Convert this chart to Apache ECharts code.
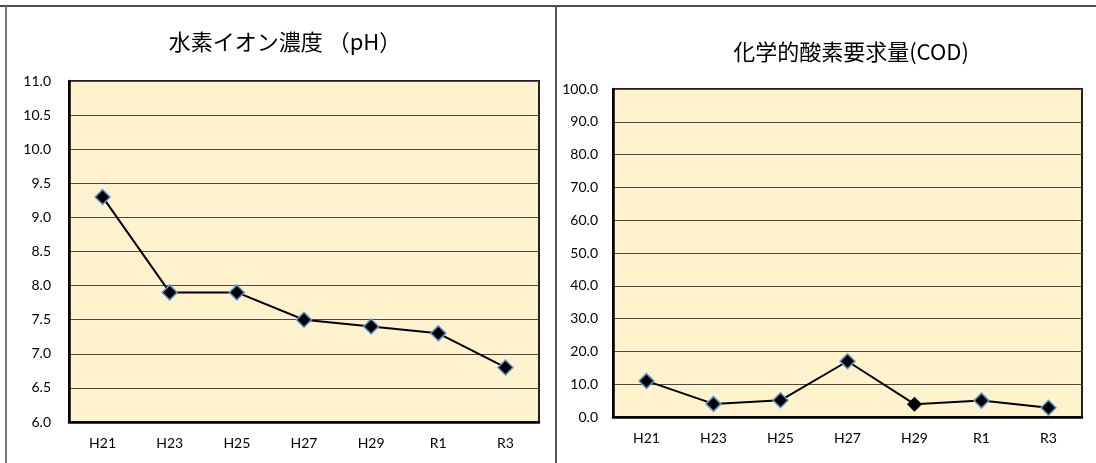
<!DOCTYPE html>
<html>
<head>
<meta charset="utf-8">
<script src="https://cdn.jsdelivr.net/npm/echarts@6/dist/echarts.min.js"></script>
<style>
	html, body { margin: 0; padding: 0; background: #fff; }
	#main { width: 1096px; height: 463px; }
</style>
</head>
<body>
<div id="main"></div>
<script>
// 年度
var years = ['H21', 'H23', 'H25', 'H27', 'H29', 'R1', 'R3'];
// 水素イオン濃度 (pH)
var phValues = [9.3, 7.9, 7.9, 7.5, 7.4, 7.3, 6.8];
// 化学的酸素要求量 (COD)
var codValues = [11.0, 4.0, 5.1, 17.0, 3.9, 5.0, 2.8];

var titleLeft = '水素イオン濃度 （pH）';
var titleRight = '化学的酸素要求量(COD)';

var labelFont = 'Lato, "Noto Sans CJK JP", sans-serif';
var plotBg = '#fff2cc';

function markerData(values, plainIndex) {
	// 菱形マーカー（一部は青い縁なし）
	return values.map(function (v, i) {
		if (i === plainIndex) {
			return { value: v, symbolSize: 15, itemStyle: { color: '#000', borderWidth: 0 } };
		}
		return v;
	});
}

function makeChart() {
	var myChart = echarts.init(document.getElementById('main'));
	var option = {
		backgroundColor: '#fff',
		animation: false,
		title: [{
			text: titleLeft,
			left: 280,
			top: 26,
			textAlign: 'center',
			textStyle: { fontFamily: '"Noto Sans CJK JP", sans-serif', fontSize: 22, fontWeight: 'normal', color: '#000' }
		}, {
			text: titleRight,
			left: 846,
			top: 36,
			textAlign: 'center',
			textStyle: { fontFamily: '"Noto Sans CJK JP", sans-serif', fontSize: 22, fontWeight: 'normal', color: '#000' }
		}],
		graphic: [
			{ type: 'line', shape: { x1: 0, y1: 6, x2: 1096, y2: 6 }, style: { stroke: '#111', lineWidth: 1.5 } },
			{ type: 'line', shape: { x1: 6, y1: 6, x2: 6, y2: 463 }, style: { stroke: '#777', lineWidth: 2 } },
			{ type: 'line', shape: { x1: 556, y1: 6, x2: 556, y2: 463 }, style: { stroke: '#555', lineWidth: 2 } }
		],
		grid: [{
			left: 69, right: 557, top: 81, bottom: 41,
			show: true, backgroundColor: plotBg, borderColor: '#222', borderWidth: 2
		}, {
			left: 613, right: 14, top: 89, bottom: 46,
			show: true, backgroundColor: plotBg, borderColor: '#222', borderWidth: 2
		}],
		xAxis: [0, 1].map(function (i) {
			return {
				type: 'category',
				gridIndex: i,
				data: years,
				boundaryGap: true,
				axisLine: { lineStyle: { color: '#000', width: 2.5 } },
				axisTick: { inside: true, length: 5, lineStyle: { color: '#333' } },
				axisLabel: { margin: 14, fontSize: 14, fontFamily: labelFont, color: '#000' }
			};
		}),
		yAxis: [{
			type: 'value',
			gridIndex: 0,
			min: 6, max: 11, interval: 0.5,
			axisLine: { show: true, lineStyle: { color: '#000', width: 2.5 } },
			axisTick: { show: false },
			splitLine: { lineStyle: { color: '#4a4a4a', width: 1 } },
			axisLabel: {
				margin: 18, fontSize: 14, fontFamily: labelFont, color: '#000',
				formatter: function (v) { return v.toFixed(1); }
			}
		}, {
			type: 'value',
			gridIndex: 1,
			min: 0, max: 100, interval: 10,
			axisLine: { show: true, lineStyle: { color: '#000', width: 2.5 } },
			axisTick: { show: false },
			splitLine: { lineStyle: { color: '#4a4a4a', width: 1 } },
			axisLabel: {
				margin: 15, fontSize: 14, fontFamily: labelFont, color: '#000',
				formatter: function (v) { return v.toFixed(1); }
			}
		}],
		series: [{
			name: 'pH',
			type: 'line',
			xAxisIndex: 0,
			yAxisIndex: 0,
			data: phValues,
			symbol: 'diamond',
			symbolSize: 15,
			lineStyle: { color: '#000', width: 2 },
			itemStyle: { color: '#000', borderColor: '#5b9bd5', borderWidth: 1.5 }
		}, {
			name: 'COD',
			type: 'line',
			xAxisIndex: 1,
			yAxisIndex: 1,
			data: markerData(codValues, 4),
			symbol: 'diamond',
			symbolSize: 15,
			lineStyle: { color: '#000', width: 2 },
			itemStyle: { color: '#000', borderColor: '#5b9bd5', borderWidth: 1.5 }
		}]
	};
	myChart.setOption(option);
}

makeChart();
</script>
</body>
</html>
